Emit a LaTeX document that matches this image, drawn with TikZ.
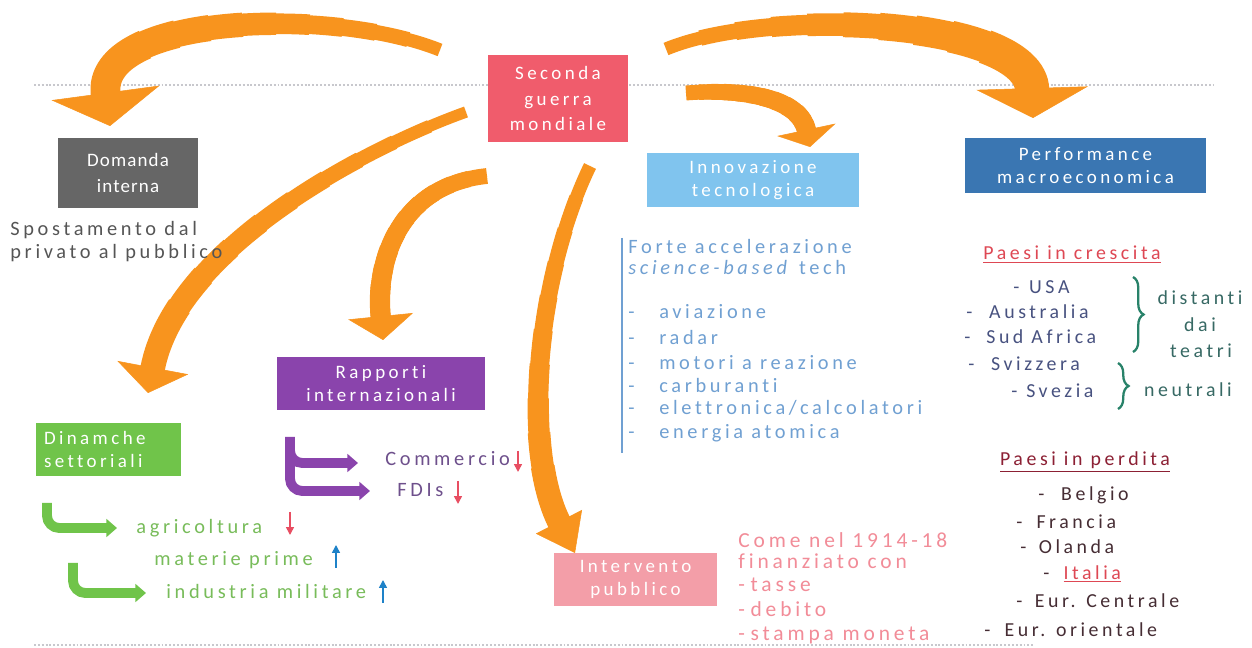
\documentclass[tikz,border=0pt]{standalone}
\usepackage{fontspec}
\setmainfont{Carlito}[LetterSpace=18,Ligatures={NoCommon,NoRequired,NoContextual}]
\newfontfamily\plainfont{Carlito}[LetterSpace=6,Ligatures={NoCommon,NoRequired,NoContextual}]
\usetikzlibrary{arrows.meta,decorations.pathreplacing}
\definecolor{orangeA}{RGB}{248,148,30}
\definecolor{secC}{RGB}{240,92,108}
\definecolor{domC}{RGB}{102,102,102}
\definecolor{innC}{RGB}{128,196,238}
\definecolor{perfC}{RGB}{58,118,178}
\definecolor{rapC}{RGB}{138,68,172}
\definecolor{dinC}{RGB}{112,196,74}
\definecolor{intC}{RGB}{243,158,168}
\definecolor{forteC}{RGB}{112,160,210}
\definecolor{spostC}{RGB}{85,85,85}
\definecolor{comC}{RGB}{110,80,140}
\definecolor{greenT}{RGB}{120,188,90}
\definecolor{redA}{RGB}{232,78,98}
\definecolor{blueA}{RGB}{30,130,200}
\definecolor{comeC}{RGB}{242,140,152}
\definecolor{cresC}{RGB}{222,72,84}
\definecolor{cresT}{RGB}{72,82,128}
\definecolor{braceC}{RGB}{40,130,105}
\definecolor{distC}{RGB}{55,105,100}
\definecolor{perdC}{RGB}{140,32,52}
\definecolor{perdT}{RGB}{70,45,52}
\definecolor{dotC}{RGB}{200,200,205}
% tapered orange body: start, c1, c2, end, tail width, head width, length (pt), tip length
\newcommand\orbody[8]{%
  \foreach \kk in {0,...,9}{%
    \pgfmathsetmacro\twdth{#5+(#6-#5)*\kk/9}%
    \pgfmathsetmacro\toff{#7*\kk/10}%
    \draw[orarrow, line width=\twdth pt, shorten >=#8, dash pattern=on 0pt off \toff pt on 3000pt] (#1) .. controls #2 and #3 .. (#4);%
  }%
}
\begin{document}
\begin{tikzpicture}[x=0.02cm,y=-0.02cm,
  box/.style={rectangle, inner sep=0pt, text=white, align=center, font=\fontsize{10.8}{13}\selectfont},
  txt/.style={inner sep=0pt, anchor=west, font=\fontsize{11.6}{13}\selectfont},
  rtxt/.style={inner sep=0pt, anchor=west, font=\fontsize{11.3}{13}\selectfont},
  ctxt/.style={inner sep=0pt, font=\fontsize{11.3}{13}\selectfont},
  dotline/.style={draw=dotC, line width=1.1pt, dash pattern=on 1.1pt off 1.1pt},
  orarrow/.style={draw=orangeA, line cap=butt},
  ortip/.style={draw=orangeA, line width=0.3pt},
  elbow/.style={line width=5.6pt, line cap=butt, rounded corners=7pt, -{Triangle[width=10pt,length=6pt]}},
  updown/.style={line width=0.9pt, -{Triangle[width=4.5pt,length=4.5pt]}},
  bracedec/.style={draw=braceC, line width=1.3pt, decorate, decoration={brace, amplitude=6pt}}
]
\fill[white] (0,0) rectangle (1252,648);
\useasboundingbox (0,0) rectangle (1252,648);

% dotted separators
\coordinate (d1a) at (34,85); \coordinate (d1b) at (1213,85);
\coordinate (d2a) at (34,645); \coordinate (d2b) at (1035,645);
\draw[dotline] (d1a) -- (d1b);
\draw[dotline] (d2a) -- (d2b);

% boxes
\node[box, fill=secC, minimum width=2.8cm, minimum height=1.74cm, font=\fontsize{10.8}{14.5}\selectfont] (sec) at (558,98.5) {Seconda\\guerra\\mondiale};
\node[box, fill=domC, minimum width=2.8cm, minimum height=1.4cm, font=\plainfont\fontsize{10.8}{14.5}\selectfont] (dom) at (128,173) {Domanda\\interna};
\node[box, fill=innC, minimum width=4.24cm, minimum height=1.08cm] (inn) at (753,180) {Innovazione\\tecnologica};
\node[box, fill=perfC, minimum width=4.82cm, minimum height=1.1cm] (perf) at (1085.5,165.5) {Performance\\macroeconomica};
\node[box, fill=rapC, minimum width=4.16cm, minimum height=1.06cm] (rap) at (381,383.5) {Rapporti\\internazionali};
\node[box, fill=dinC, minimum width=2.9cm, minimum height=1.06cm, align=left, text width=2.58cm] (din) at (108.5,449.5) {Dinamche\\settoriali};
\node[box, fill=intC, minimum width=3.26cm, minimum height=1.06cm] (int) at (635.5,579.5) {Intervento\\pubblico};

% orange curved arrows (tapered bodies, then heads)
\coordinate (tlS) at (440,50);  \coordinate (tlE) at (110,126);
\coordinate (trS) at (666,49);  \coordinate (trE) at (1033,118);
\coordinate (smS) at (686,93);  \coordinate (smE) at (810,147);
\coordinate (lgS) at (466,112); \coordinate (lgE) at (148,393);
\coordinate (rpS) at (487,176); \coordinate (rpE) at (383,340);
\coordinate (ceS) at (590,166); \coordinate (ceE) at (575,553);
\orbody{tlS}{(330,6)}{(95,15)}{tlE}{7.5}{17}{190}{18pt}
\orbody{trS}{(770,6)}{(1030,20)}{trE}{7.5}{19.5}{205}{16pt}
\orbody{smS}{(750,88)}{(800,100)}{smE}{8.5}{11}{72}{9.5pt}
\orbody{lgS}{(360,150)}{(175,250)}{lgE}{6.5}{14}{222}{14pt}
\orbody{rpS}{(400,185)}{(375,260)}{rpE}{9}{11.5}{105}{13pt}
\orbody{ceS}{(535,280)}{(522,450)}{ceE}{7.5}{13.5}{195}{19pt}
\draw[ortip, -{Triangle[width=62pt,length=19pt]}] (tlS) .. controls (330,6) and (95,15) .. (tlE);
\draw[ortip, -{Triangle[width=63.5pt,length=17pt]}] (trS) .. controls (770,6) and (1030,20) .. (trE);
\draw[ortip, -{Triangle[width=34pt,length=10pt]}] (smS) .. controls (750,88) and (800,100) .. (smE);
\draw[ortip, -{Triangle[width=41pt,length=14.7pt]}] (lgS) .. controls (360,150) and (175,250) .. (lgE);
\draw[ortip, -{Triangle[width=37pt,length=13.6pt]}] (rpS) .. controls (400,185) and (375,260) .. (rpE);
\draw[ortip, -{Triangle[width=29.5pt,length=20pt]}] (ceS) .. controls (535,280) and (522,450) .. (ceE);

% domanda interna text
\node[txt, text=spostC] (sp1) at (10,230) {Spostamento dal};
\node[txt, text=spostC] (sp2) at (10,253) {privato al pubblico};

% innovazione list
\coordinate (vlA) at (622,238); \coordinate (vlB) at (622,453);
\draw[forteC, line width=0.8pt] (vlA) -- (vlB);
\node[txt, text=forteC] (fo1) at (628,247) {Forte accelerazione};
\node[txt, text=forteC] (fo2) at (628,268) {\textit{science-based} tech};
\node[txt, text=forteC] (li1) at (628,312) {\makebox[17.6pt][l]{-}aviazione};
\node[txt, text=forteC] (li2) at (628,338) {\makebox[17.6pt][l]{-}radar};
\node[txt, text=forteC] (li3) at (628,363) {\makebox[17.6pt][l]{-}motori a reazione};
\node[txt, text=forteC] (li4) at (628,386) {\makebox[17.6pt][l]{-}carburanti};
\node[txt, text=forteC] (li5) at (628,408) {\makebox[17.6pt][l]{-}elettronica/calcolatori};
\node[txt, text=forteC] (li6) at (628,433) {\makebox[17.6pt][l]{-}energia atomica};

% rapporti internazionali
\coordinate (pu0) at (290,437); \coordinate (puA) at (358,463);
\coordinate (pu1) at (290,448); \coordinate (puB) at (370,491);
\draw[elbow, rapC] (pu1) |- (puB);
\draw[elbow, rapC] (pu0) |- (puA);
\node[txt, text=comC] (com) at (385,459) {Commercio};
\node[txt, text=comC] (fdi) at (397,490) {FDIs};
\coordinate (r1a) at (518,451); \coordinate (r1b) at (518,472);
\coordinate (r2a) at (458,481); \coordinate (r2b) at (458,504);
\draw[updown, redA] (r1a) -- (r1b);
\draw[updown, redA] (r2a) -- (r2b);

% dinamiche settoriali
\coordinate (g1a) at (47,503); \coordinate (g1b) at (117,528);
\coordinate (g2a) at (73,563); \coordinate (g2b) at (146,593);
\draw[elbow, dinC] (g1a) |- (g1b);
\draw[elbow, dinC] (g2a) |- (g2b);
\node[txt, text=greenT] (agr) at (136,528) {agricoltura};
\node[txt, text=greenT] (mat) at (154,560) {materie prime};
\node[txt, text=greenT] (ind) at (166,591) {industria militare};
\coordinate (r3a) at (290,512); \coordinate (r3b) at (290,535);
\coordinate (b1a) at (336,568); \coordinate (b1b) at (336,545);
\coordinate (b2a) at (383,603); \coordinate (b2b) at (383,580);
\draw[updown, redA] (r3a) -- (r3b);
\draw[updown, blueA] (b1a) -- (b1b);
\draw[updown, blueA] (b2a) -- (b2b);

% intervento pubblico
\node[txt, text=comeC, font=\fontsize{12.2}{13}\selectfont] (co1) at (738,540) {Come nel 1914-18};
\node[txt, text=comeC, font=\fontsize{12.2}{13}\selectfont] (co2) at (738,561) {finanziato con};
\node[txt, text=comeC, font=\fontsize{12.2}{13}\selectfont] (co3) at (738,585) {\makebox[7pt][l]{-}tasse};
\node[txt, text=comeC, font=\fontsize{12.2}{13}\selectfont] (co4) at (738,609) {\makebox[7pt][l]{-}debito};
\node[txt, text=comeC, font=\fontsize{12.2}{13}\selectfont] (co5) at (738,635) {\makebox[7pt][l]{-}stampa moneta};

% performance: crescita
\node[ctxt, text=cresC] (cres) at (1072,255) {\underline{Paesi in crescita}};
\node[rtxt, text=cresT] (c1) at (1013,287) {\makebox[9pt][l]{-}USA};
\node[rtxt, text=cresT] (c2) at (966,312) {\makebox[13pt][l]{-}Australia};
\node[rtxt, text=cresT] (c3) at (964,337) {\makebox[12.5pt][l]{-}Sud Africa};
\node[rtxt, text=cresT] (c4) at (968,364) {\makebox[13pt][l]{-}Svizzera};
\node[rtxt, text=cresT] (c5) at (1011,391) {\makebox[8.5pt][l]{-}Svezia};
\coordinate (brA) at (1133,277); \coordinate (brB) at (1133,352);
\coordinate (brC) at (1118,363); \coordinate (brD) at (1118,409);
\draw[bracedec] (brA) -- (brB);
\draw[bracedec] (brC) -- (brD);
\node[ctxt, text=distC] (di1) at (1200,298) {distanti};
\node[ctxt, text=distC] (di2) at (1200,325) {dai};
\node[ctxt, text=distC] (di3) at (1201,351) {teatri};
\node[ctxt, text=distC] (neu) at (1188,390) {neutrali};

% performance: perdita
\node[ctxt, text=perdC] (perd) at (1085,462) {\underline{Paesi in perdita}};
\node[rtxt, text=perdT] (p1) at (1038,495) {\makebox[13pt][l]{-}Belgio};
\node[rtxt, text=perdT] (p2) at (1016,522) {\makebox[11.5pt][l]{-}Francia};
\node[rtxt, text=perdT] (p3) at (1020,547) {\makebox[10.5pt][l]{-}Olanda};
\node[rtxt, text=perdT] (p4) at (1043,574) {\makebox[11.5pt][l]{-}\textcolor{cresC}{\underline{Italia}}};
\node[rtxt, text=perdT] (p5) at (1016,601) {\makebox[10.5pt][l]{-}Eur. Centrale};
\node[rtxt, text=perdT] (p6) at (984,630) {\makebox[11.5pt][l]{-}Eur. orientale};
\end{tikzpicture}
\end{document}
